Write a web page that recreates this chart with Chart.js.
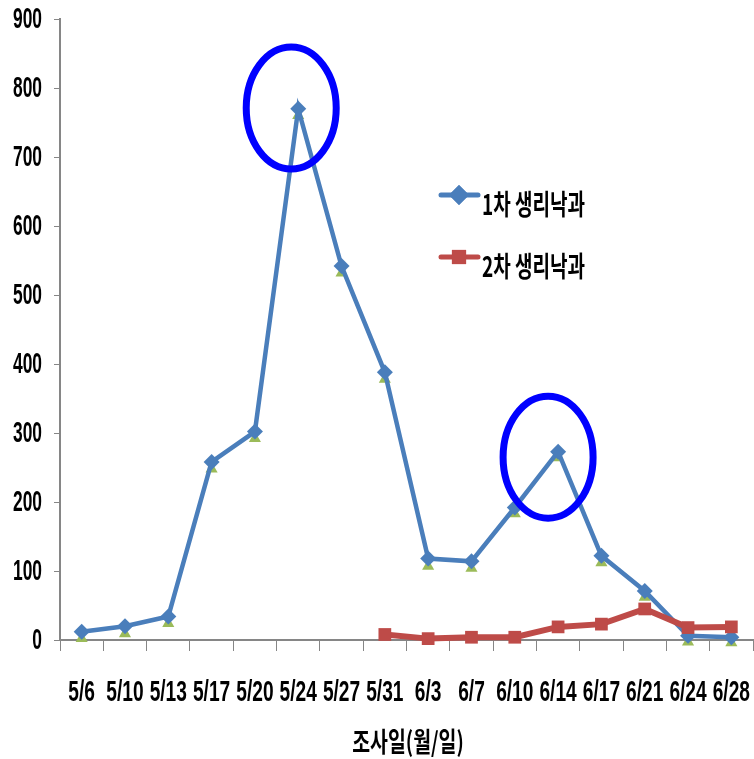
<!DOCTYPE html>
<html>
<head>
<meta charset="utf-8">
<script src="https://cdn.jsdelivr.net/npm/chart.js@4"></script>
<style>
  html, body { margin: 0; padding: 0; background: #fff; overflow: hidden; }
  canvas { display: block; }
</style>
</head>
<body>
<canvas id="dropChart" width="762" height="759"></canvas>
<script>
// survey dates (month/day)
var dates = ['5/6', '5/10', '5/13', '5/17', '5/20', '5/24', '5/27', '5/31',
             '6/3', '6/7', '6/10', '6/14', '6/17', '6/21', '6/24', '6/28'];
// 1st physiological fruit drop
var firstDrop = [12, 20, 34, 258, 302, 770, 542, 388, 118, 114, 192, 273, 122, 71, 6, 4];
// 2nd physiological fruit drop (starts 5/31)
var secondDrop = [null, null, null, null, null, null, null, 8, 2, 4, 4, 19, 23, 45, 18, 19];
// unlabeled green triangle markers peeking out just under the blue diamonds
var triangleMarks = [2, 9, 24, 248, 292, 760, 532, 378, 107, 104, 183, 264, 112, 62, -3, -4];
var yTicks = [0, 100, 200, 300, 400, 500, 600, 700, 800, 900];
var legendLabels = ['1차 생리낙과', '2차 생리낙과'];
var axisTitle = '조사일(월/일)';
// circled peaks: category index and value of each circle's centre
var peakIndex = [5, 11];
var peakValue = [771, 265];

var blue = '#4a7ebb';
var red = '#be4b48';
var green = '#9bbb59';
var numFont = "bold 29px 'Liberation Sans', Arial, sans-serif";
var krFont = "'Noto Sans CJK KR', sans-serif";

// text squeezed horizontally, like the narrow fonts of the original
function squeezed(ctx, text, x, y, sx, align) {
    ctx.save();
    ctx.translate(x, y);
    ctx.scale(sx, 1);
    ctx.textAlign = align;
    ctx.textBaseline = 'middle';
    ctx.fillText(text, 0, 0);
    ctx.restore();
}

// blue rings around the two peaks
var ringPlugin = {
    id: 'rings',
    afterDatasetsDraw: function (chart) {
        var ctx = chart.ctx;
        var xs = chart.scales.x, ys = chart.scales.y;
        var shift = [-7, -10];
        ctx.save();
        ctx.strokeStyle = '#0000ff';
        ctx.lineWidth = 7;
        for (var i = 0; i < peakIndex.length; i++) {
            var cx = xs.getPixelForValue(peakIndex[i]) + shift[i];
            var cy = ys.getPixelForValue(peakValue[i]);
            ctx.beginPath();
            ctx.ellipse(cx, cy, 45, 61, 0, 0, Math.PI * 2);
            ctx.stroke();
        }
        ctx.restore();
    }
};

// tick labels, axis title and the legend inside the plot
var textPlugin = {
    id: 'texts',
    afterDraw: function (chart) {
        var ctx = chart.ctx;
        var xs = chart.scales.x, ys = chart.scales.y;
        ctx.save();
        ctx.fillStyle = '#000';

        ctx.font = numFont;
        dates.forEach(function (d, i) {
            squeezed(ctx, d, xs.getPixelForValue(i), 693, 0.66, 'center');
        });
        yTicks.forEach(function (v) {
            squeezed(ctx, String(v), 42, ys.getPixelForValue(v) + 1, 0.6, 'right');
        });

        ctx.font = 'bold 27px ' + krFont;
        squeezed(ctx, axisTitle, 408, 742, 0.72, 'center');

        var colors = [blue, red];
        var styles = ['rectRot', 'rect'];
        var radii = [10, 10];
        var x0 = 441, rowY = [195, 257];
        for (var i = 0; i < legendLabels.length; i++) {
            var y = rowY[i];
            ctx.strokeStyle = colors[i];
            ctx.lineWidth = 5;
            ctx.lineCap = 'round';
            ctx.beginPath();
            ctx.moveTo(x0, y);
            ctx.lineTo(x0 + 37, y);
            ctx.stroke();
            ctx.fillStyle = colors[i];
            Chart.helpers.drawPoint(ctx, { pointStyle: styles[i], radius: radii[i], borderWidth: 0 }, x0 + 18, y);
            ctx.fill();
            ctx.fillStyle = '#000';
            ctx.font = 'bold 28px ' + krFont;
            squeezed(ctx, legendLabels[i], x0 + 41, y + 9, 0.68, 'left');
        }
        ctx.restore();
    }
};

var ctx = document.getElementById('dropChart').getContext('2d');
var dropChart = new Chart(ctx, {
    type: 'line',
    data: {
        labels: dates,
        datasets: [{
            label: 'triangles',
            data: triangleMarks,
            showLine: false,
            clip: false,
            pointStyle: 'triangle',
            pointRadius: 7,
            pointBackgroundColor: green,
            pointBorderColor: green,
            pointBorderWidth: 0,
            order: 3
        }, {
            label: legendLabels[0],
            data: firstDrop,
            borderColor: blue,
            backgroundColor: blue,
            borderWidth: 4.5,
            pointStyle: 'rectRot',
            pointRadius: 8,
            pointBackgroundColor: blue,
            pointBorderColor: blue,
            pointBorderWidth: 0,
            clip: false,
            tension: 0,
            order: 2
        }, {
            label: legendLabels[1],
            data: secondDrop,
            borderColor: red,
            backgroundColor: red,
            borderWidth: 6,
            pointStyle: 'rect',
            pointRadius: 9,
            pointBackgroundColor: red,
            pointBorderColor: red,
            pointBorderWidth: 0,
            clip: false,
            spanGaps: false,
            tension: 0,
            order: 1
        }]
    },
    options: {
        responsive: false,
        animation: false,
        layout: { padding: { top: 19, right: 0, left: 0, bottom: 0 } },
        plugins: {
            legend: { display: false },
            tooltip: { enabled: false }
        },
        scales: {
            x: {
                offset: true,
                grid: {
                    offset: true,
                    drawOnChartArea: false,
                    color: '#868686',
                    tickLength: 11,
                    tickColor: '#868686'
                },
                border: { color: '#868686', width: 2 },
                ticks: { display: false, autoSkip: false },
                afterFit: function (scale) { scale.height = 119; }
            },
            y: {
                min: 0,
                max: 900,
                afterBuildTicks: function (scale) {
                    scale.ticks = yTicks.map(function (v) { return { value: v }; });
                },
                grid: {
                    drawOnChartArea: false,
                    color: '#868686',
                    tickLength: 6,
                    tickColor: '#868686'
                },
                border: { color: '#868686', width: 2 },
                ticks: { display: false },
                afterFit: function (scale) { scale.width = 60; }
            }
        }
    },
    plugins: [ringPlugin, textPlugin]
});
</script>
</body>
</html>
